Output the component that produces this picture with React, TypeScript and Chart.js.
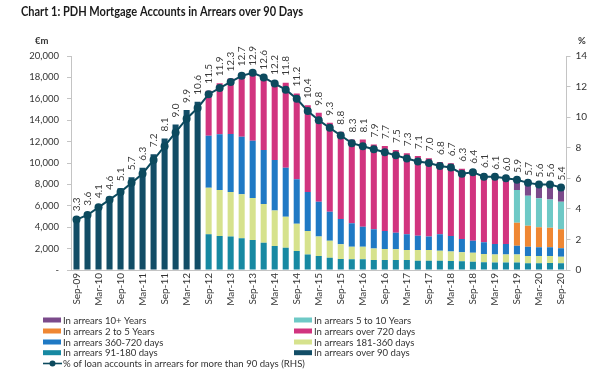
import React, { useEffect, useRef } from 'react';
import { Chart, registerables } from 'chart.js';

Chart.register(...registerables);

const TITLE = 'Chart 1: PDH Mortgage Accounts in Arrears over 90 Days';
const LEFT_UNIT = '€m';
const RIGHT_UNIT = '%';

const categories = [
  'Sep-09', 'Dec-09', 'Mar-10', 'Jun-10', 'Sep-10', 'Dec-10', 'Mar-11', 'Jun-11', 'Sep-11', 'Dec-11',
  'Mar-12', 'Jun-12', 'Sep-12', 'Dec-12', 'Mar-13', 'Jun-13', 'Sep-13', 'Dec-13', 'Mar-14', 'Jun-14',
  'Sep-14', 'Dec-14', 'Mar-15', 'Jun-15', 'Sep-15', 'Dec-15', 'Mar-16', 'Jun-16', 'Sep-16', 'Dec-16',
  'Mar-17', 'Jun-17', 'Sep-17', 'Dec-17', 'Mar-18', 'Jun-18', 'Sep-18', 'Dec-18', 'Mar-19', 'Jun-19',
  'Sep-19', 'Dec-19', 'Mar-20', 'Jun-20', 'Sep-20',
];

// €m values
const over90Days = [
  4830, 5360, 6070, 6850, 7630, 8660, 9560, 10810, 12300, 13600,
  14950, 15730, null, null, null, null, null, null, null, null,
  null, null, null, null, null, null, null, null, null, null,
  null, null, null, null, null, null, null, null, null, null,
  null, null, null, null, null,
];
const days91to180 = [
  null, null, null, null, null, null, null, null, null, null,
  null, null, 3330, 3180, 3120, 2960, 2800, 2550, 2240, 2090,
  1780, 1460, 1310, 1150, 1030, 1000, 1000, 930, 930, 930,
  930, 870, 870, 870, 840, 810, 780, 720, 690, 690,
  690, 620, 620, 650, 620,
];
const days181to360 = [
  null, null, null, null, null, null, null, null, null, null,
  null, null, 4360, 4300, 4170, 4110, 3930, 3620, 3310, 2890,
  2550, 2180, 1810, 1590, 1370, 1180, 1180, 1090, 1030, 1000,
  940, 1000, 1000, 940, 900, 840, 840, 780, 770, 770,
  770, 690, 690, 660, 630,
];
const days360to720 = [
  null, null, null, null, null, null, null, null, null, null,
  null, null, 4860, 5200, 5420, 5390, 5360, 5040, 4730, 4580,
  4140, 3650, 3270, 2710, 2370, 2180, 1870, 1780, 1680, 1560,
  1460, 1340, 1250, 1520, 1440, 1250, 1120, 1090, 970, 970,
  810, 870, 810, 810, 780,
];
const over720Days = [
  null, null, null, null, null, null, null, null, null, null,
  null, null, 4210, 4770, 5190, 5920, 6350, 6860, 7320, 7940,
  8030, 8110, 8310, 8320, 8160, 7840, 8150, 7940, 7950, 7720,
  7570, 7440, 7320, 6760, 6790, 6570, 6540, 6290, 6230, 5980,
  null, null, null, null, null,
];
const years2to5 = [
  null, null, null, null, null, null, null, null, null, null,
  null, null, null, null, null, null, null, null, null, null,
  null, null, null, null, null, null, null, null, null, null,
  null, null, null, null, null, null, null, null, null, null,
  2150, 1960, 1880, 1830, 1770,
];
const years5to10 = [
  null, null, null, null, null, null, null, null, null, null,
  null, null, null, null, null, null, null, null, null, null,
  null, null, null, null, null, null, null, null, null, null,
  null, null, null, null, null, null, null, null, null, null,
  3060, 2810, 2700, 2650, 2580,
];
const years10plus = [
  null, null, null, null, null, null, null, null, null, null,
  null, null, null, null, null, null, null, null, null, null,
  null, null, null, null, null, null, null, null, null, null,
  null, null, null, null, null, null, null, null, null, null,
  780, 1090, 1180, 1250, 1270,
];
// % of loan accounts in arrears > 90 days (RHS)
const pctAccounts = [
  3.3, 3.6, 4.1, 4.6, 5.1, 5.7, 6.3, 7.2, 8.1, 9.0,
  9.9, 10.6, 11.5, 11.9, 12.3, 12.7, 12.9, 12.6, 12.2, 11.8,
  11.2, 10.4, 9.8, 9.3, 8.8, 8.3, 8.1, 7.9, 7.7, 7.5,
  7.3, 7.1, 7.0, 6.8, 6.7, 6.3, 6.4, 6.1, 6.1, 6.0,
  5.9, 5.7, 5.6, 5.6, 5.4,
];

const leftTicksMax = 20000;
const leftTicksStep = 2000;
const rightTicksMax = 14;
const rightTicksStep = 2;

const COLORS = {
  over90: '#124d66',
  d91: '#1789a2',
  d181: '#d6e28d',
  d360: '#1f79c4',
  d720: '#d1347f',
  y2: '#ef8733',
  y5: '#6ec9c6',
  y10: '#7b4a8b',
  line: '#0c4a5e',
};

const LABELS = {
  over90: 'In arrears over 90 days',
  d91: 'In arrears 91-180 days',
  d181: 'In arrears 181-360 days',
  d360: 'In arrears 360-720 days',
  d720: 'In arrears over 720 days',
  y2: 'In arrears 2 to 5 Years',
  y5: 'In arrears 5 to 10 Years',
  y10: 'In arrears 10+ Years',
  line: '% of loan accounts in arrears for more than 90 days (RHS)',
};

const legendLeft = ['y10', 'y2', 'd360', 'd91'];
const legendRight = ['y5', 'd720', 'd181', 'over90'];

const FONT = 'Lato';

const extrasPlugin = {
  id: 'extras',
  afterDatasetsDraw(chart: any) {
    const ctx = chart.ctx;
    const xs = chart.scales.x;
    const ys = chart.scales.y;
    const y1 = chart.scales.y1;
    const barSets = chart.data.datasets.filter((d: any) => d.type === 'bar');
    ctx.save();
    ctx.fillStyle = '#3a3a3a';
    ctx.font = `10px ${FONT}`;
    ctx.textAlign = 'left';
    ctx.textBaseline = 'middle';
    pctAccounts.forEach((v, i) => {
      const px = xs.getPixelForValue(i);
      const py = y1.getPixelForValue(v);
      let total = 0;
      barSets.forEach((d: any) => {
        const val = d.data[i];
        if (typeof val === 'number') total += val;
      });
      const by = ys.getPixelForValue(total);
      const base = Math.min(py, by) - 7;
      ctx.save();
      ctx.translate(px, base);
      ctx.rotate(-Math.PI / 2);
      ctx.fillText(v.toFixed(1), 0, 0.5);
      ctx.restore();
    });
    ctx.restore();
  },
  afterDraw(chart: any) {
    const ctx = chart.ctx;
    ctx.save();
    // title
    ctx.fillStyle = '#1b1b1b';
    ctx.font = `bold 12.5px ${FONT}`;
    ctx.textAlign = 'left';
    ctx.textBaseline = 'alphabetic';
    ctx.fillText(TITLE, 21, 16, 282);
    // units
    ctx.font = `bold 9.5px ${FONT}`;
    ctx.fillStyle = '#333';
    ctx.textBaseline = 'middle';
    ctx.fillText(LEFT_UNIT, 35, 41);
    ctx.fillText(RIGHT_UNIT, 578, 41);
    // legend
    ctx.font = `9.6px ${FONT}`;
    ctx.fillStyle = '#333';
    const rows = [320, 331, 342, 352.7];
    const drawItem = (key: string, x: number, y: number) => {
      ctx.fillStyle = (COLORS as any)[key];
      ctx.fillRect(x, y - 2.5, 18, 5);
      ctx.fillStyle = '#333';
      ctx.fillText((LABELS as any)[key], x + 20, y + 0.5);
    };
    legendLeft.forEach((k, i) => drawItem(k, 43, rows[i]));
    legendRight.forEach((k, i) => drawItem(k, 294, rows[i]));
    const ly = 363.5;
    ctx.strokeStyle = COLORS.line;
    ctx.lineWidth = 1.6;
    ctx.beginPath();
    ctx.moveTo(43, ly);
    ctx.lineTo(62, ly);
    ctx.stroke();
    ctx.fillStyle = COLORS.line;
    ctx.beginPath();
    ctx.arc(52.5, ly, 3, 0, Math.PI * 2);
    ctx.fill();
    ctx.fillStyle = '#333';
    ctx.fillText(LABELS.line, 63, ly + 0.5);
    ctx.restore();
  },
};

export default function App() {
  const ref = useRef<HTMLCanvasElement | null>(null);

  useEffect(() => {
    if (!ref.current) return;
    Chart.defaults.font.family = FONT;
    Chart.defaults.color = '#404040';
    const bar = (key: string, data: (number | null)[]) => ({
      type: 'bar' as const,
      label: (LABELS as any)[key],
      data,
      backgroundColor: (COLORS as any)[key],
      borderWidth: 0,
      yAxisID: 'y',
      stack: 's',
      order: 1,
      barPercentage: 0.55,
      categoryPercentage: 1,
    });
    const chart = new Chart(ref.current, {
      type: 'bar',
      data: {
        labels: categories,
        datasets: [
          bar('over90', over90Days),
          bar('d91', days91to180),
          bar('d181', days181to360),
          bar('d360', days360to720),
          bar('d720', over720Days),
          bar('y2', years2to5),
          bar('y5', years5to10),
          bar('y10', years10plus),
          {
            type: 'line' as const,
            label: LABELS.line,
            data: pctAccounts,
            yAxisID: 'y1',
            borderColor: COLORS.line,
            backgroundColor: COLORS.line,
            borderWidth: 2,
            pointRadius: 4,
            pointBackgroundColor: COLORS.line,
            pointBorderWidth: 0,
            tension: 0,
            order: 0,
          } as any,
        ],
      },
      options: {
        responsive: false,
        animation: false,
        events: [],
        devicePixelRatio: 1,
        layout: { padding: { top: 56, left: 0, right: 0, bottom: 0 } },
        plugins: {
          legend: { display: false },
          tooltip: { enabled: false },
          title: { display: false },
        },
        scales: {
          x: {
            stacked: true,
            offset: true,
            grid: { display: false, drawTicks: false },
            border: { display: true, color: '#c4c4c4' },
            ticks: {
              autoSkip: false,
              maxRotation: 90,
              minRotation: 90,
              padding: 3,
              color: '#333',
              font: { family: FONT, size: 10 },
              callback: (_v: any, i: number) => (i % 2 === 0 ? categories[i] : ''),
            },
            afterFit: (s: any) => {
              s.height = 106;
            },
          },
          y: {
            type: 'linear',
            position: 'left',
            stacked: true,
            min: 0,
            max: leftTicksMax,
            grid: { drawOnChartArea: false, tickLength: 4, color: '#c4c4c4' },
            border: { display: true, color: '#c4c4c4' },
            ticks: {
              stepSize: leftTicksStep,
              padding: 8,
              color: '#333',
              font: { family: FONT, size: 9.5 },
              callback: (v: any) => (v === 0 ? '-' : Number(v).toLocaleString('en-US')),
            },
            afterFit: (s: any) => {
              s.width = 71;
            },
          },
          y1: {
            type: 'linear',
            position: 'right',
            min: 0,
            max: rightTicksMax,
            grid: { drawOnChartArea: false, tickLength: 4, color: '#c4c4c4' },
            border: { display: true, color: '#c4c4c4' },
            ticks: {
              stepSize: rightTicksStep,
              padding: 5,
              color: '#333',
              font: { family: FONT, size: 10 },
            },
            afterFit: (s: any) => {
              s.width = 47.5;
            },
          },
        },
      } as any,
      plugins: [extrasPlugin],
    });
    return () => chart.destroy();
  }, []);

  return (
    <div style={{ position: 'absolute', left: 0, top: 0, width: 614, height: 376, background: '#fff' }}>
      <canvas ref={ref} width={614} height={376} style={{ width: 614, height: 376, display: 'block' }} />
    </div>
  );
}
